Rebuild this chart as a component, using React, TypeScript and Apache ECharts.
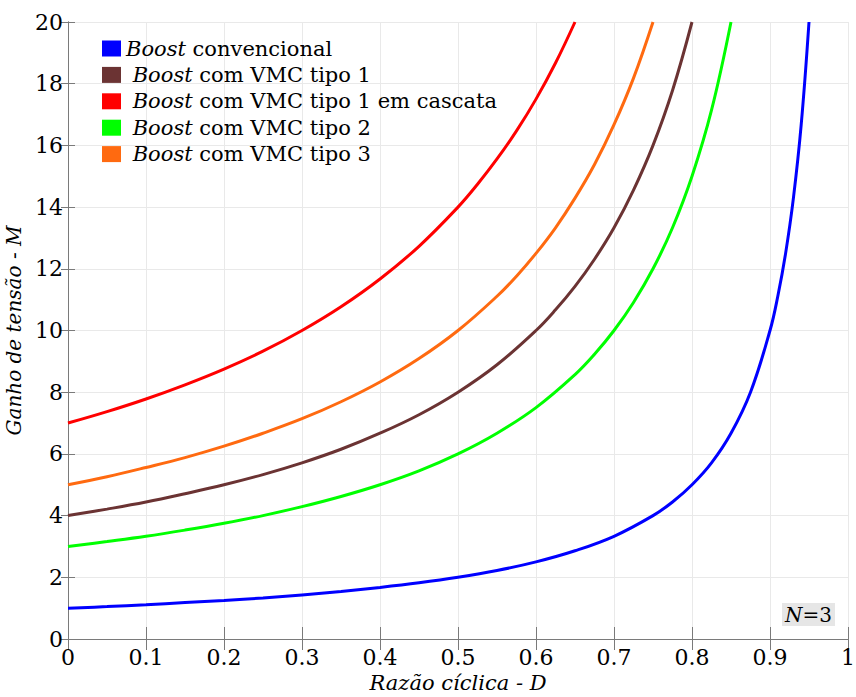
import React, { useEffect, useRef } from "react";
import * as echarts from "echarts";

// Duty cycle D (x) and voltage gain M (y) for each converter topology
const dutyBoost = [0, 0.05, 0.1, 0.15, 0.2, 0.25, 0.3, 0.35, 0.4, 0.45, 0.5, 0.55, 0.6, 0.65, 0.7, 0.75, 0.775, 0.8, 0.825, 0.85, 0.875, 0.9, 0.91, 0.92, 0.93, 0.94, 0.95];
const gainBoost = [1, 1.05, 1.11, 1.18, 1.25, 1.33, 1.43, 1.54, 1.67, 1.82, 2, 2.22, 2.5, 2.86, 3.33, 4, 4.44, 5, 5.71, 6.67, 8, 10, 11.11, 12.5, 14.29, 16.67, 20];

const dutyVmc1 = [0, 0.05, 0.1, 0.15, 0.2, 0.25, 0.3, 0.35, 0.4, 0.45, 0.5, 0.55, 0.6, 0.625, 0.65, 0.675, 0.7, 0.725, 0.75, 0.775, 0.8];
const gainVmc1 = [4, 4.21, 4.44, 4.71, 5, 5.33, 5.71, 6.15, 6.67, 7.27, 8, 8.89, 10, 10.67, 11.43, 12.31, 13.33, 14.55, 16, 17.78, 20];

const dutyCascade = [0, 0.05, 0.1, 0.15, 0.2, 0.25, 0.3, 0.35, 0.4, 0.45, 0.5, 0.525, 0.55, 0.575, 0.6, 0.625, 0.65];
const gainCascade = [7, 7.37, 7.78, 8.24, 8.75, 9.33, 10, 10.77, 11.67, 12.73, 14, 14.74, 15.56, 16.47, 17.5, 18.67, 20];

const dutyVmc2 = [0, 0.05, 0.1, 0.15, 0.2, 0.25, 0.3, 0.35, 0.4, 0.45, 0.5, 0.55, 0.6, 0.65, 0.675, 0.7, 0.725, 0.75, 0.775, 0.8, 0.825, 0.85];
const gainVmc2 = [3, 3.16, 3.33, 3.53, 3.75, 4, 4.29, 4.62, 5, 5.45, 6, 6.67, 7.5, 8.57, 9.23, 10, 10.91, 12, 13.33, 15, 17.14, 20];

const dutyVmc3 = [0, 0.05, 0.1, 0.15, 0.2, 0.25, 0.3, 0.35, 0.4, 0.45, 0.5, 0.55, 0.575, 0.6, 0.625, 0.65, 0.675, 0.7, 0.725, 0.75];
const gainVmc3 = [5, 5.26, 5.56, 5.88, 6.25, 6.67, 7.14, 7.69, 8.33, 9.09, 10, 11.11, 11.76, 12.5, 13.33, 14.29, 15.38, 16.67, 18.18, 20];

const seriesNames = [
  "Boost convencional",
  "Boost com VMC tipo 1",
  "Boost com VMC tipo 1 em cascata",
  "Boost com VMC tipo 2",
  "Boost com VMC tipo 3",
];
const seriesColors = ["#0000ff", "#6b3333", "#ff0000", "#00ff00", "#ff6a10"];
const seriesDuty = [dutyBoost, dutyVmc1, dutyCascade, dutyVmc2, dutyVmc3];
const seriesGain = [gainBoost, gainVmc1, gainCascade, gainVmc2, gainVmc3];

const FONT = "DejaVu Serif";
const AXIS_GRAY = "#7a7a7a";
const GRID_GRAY = "#e9e9e9";

export default function App() {
  const ref = useRef<HTMLDivElement>(null);

  useEffect(() => {
    if (!ref.current) return;
    const chart = echarts.init(ref.current, undefined, { renderer: "svg" });

    const series = seriesNames.map((name, k) => ({
      name,
      type: "line",
      data: seriesDuty[k].map((d, i) => [d, seriesGain[k][i]]),
      smooth: 0.4,
      showSymbol: false,
      symbol: "none",
      clip: true,
      lineStyle: { color: seriesColors[k], width: 3 },
      itemStyle: { color: seriesColors[k] },
      z: 3,
    }));

    const hiddenAxisLabel = { show: false };

    chart.setOption({
      animation: false,
      backgroundColor: "#ffffff",
      textStyle: { fontFamily: FONT },
      grid: { left: 68, right: 8, top: 22, bottom: 58, containLabel: false, outerBoundsMode: "none" },
      legend: {
        orient: "vertical",
        left: 97,
        top: 33,
        padding: 5,
        icon: "rect",
        itemWidth: 19,
        itemHeight: 16,
        itemGap: 5.4,
        data: seriesNames,
        formatter: (name: string) =>
          (name === seriesNames[0] ? "" : " ") + name.replace("Boost", "{i|Boost}"),
        textStyle: {
          fontFamily: FONT,
          fontSize: 21,
          lineHeight: 21,
          color: "#000",
          rich: {
            i: { fontFamily: FONT, fontSize: 21, fontStyle: "italic", color: "#000", lineHeight: 21 },
          },
        },
      },
      xAxis: [
        {
          type: "value",
          min: 0,
          max: 1,
          interval: 0.1,
          name: "Razão cíclica - D",
          nameLocation: "middle",
          nameGap: 26,
          nameTextStyle: { fontFamily: FONT, fontSize: 21, fontStyle: "italic", color: "#000" },
          axisLine: { show: true, lineStyle: { color: AXIS_GRAY, width: 1 } },
          axisTick: { show: true, inside: true, length: 12, lineStyle: { color: AXIS_GRAY } },
          axisLabel: { fontFamily: FONT, fontSize: 22, color: "#000", margin: 7 },
          splitLine: { show: true, lineStyle: { color: GRID_GRAY, width: 1 } },
        },
        {
          type: "value",
          position: "top",
          min: 0,
          max: 1,
          interval: 0.1,
          axisLine: { show: true, lineStyle: { color: AXIS_GRAY, width: 1 } },
          axisTick: { show: true, inside: true, length: 11, lineStyle: { color: AXIS_GRAY } },
          axisLabel: hiddenAxisLabel,
          splitLine: { show: false },
        },
      ],
      yAxis: [
        {
          type: "value",
          min: 0,
          max: 20,
          interval: 2,
          name: "Ganho de tensão - M",
          nameLocation: "middle",
          nameGap: 30,
          nameTextStyle: { fontFamily: FONT, fontSize: 20, fontStyle: "italic", color: "#000" },
          axisLine: { show: true, lineStyle: { color: AXIS_GRAY, width: 1 } },
          axisTick: { show: true, inside: true, length: 7, lineStyle: { color: AXIS_GRAY } },
          axisLabel: { fontFamily: FONT, fontSize: 22, color: "#000", margin: 5 },
          splitLine: { show: true, lineStyle: { color: GRID_GRAY, width: 1 } },
        },
        {
          type: "value",
          position: "right",
          min: 0,
          max: 20,
          interval: 2,
          axisLine: { show: true, lineStyle: { color: AXIS_GRAY, width: 1 } },
          axisTick: { show: true, inside: true, length: 7, lineStyle: { color: AXIS_GRAY } },
          axisLabel: hiddenAxisLabel,
          splitLine: { show: false },
        },
      ],
      graphic: [
        {
          type: "text",
          right: 21,
          top: 603,
          z: 10,
          style: {
            text: "{n|N}=3",
            fontFamily: FONT,
            fontSize: 20,
            fill: "#000",
            backgroundColor: "#e6e6e6",
            padding: [2, 3, 1, 3],
            rich: {
              n: { fontFamily: FONT, fontSize: 20, fontStyle: "italic", fill: "#000" },
            },
          },
        },
      ],
      series,
    });

    return () => chart.dispose();
  }, []);

  return (
    <div
      ref={ref}
      style={{ position: "fixed", left: 0, top: 0, width: 856, height: 697, background: "#fff" }}
    />
  );
}
